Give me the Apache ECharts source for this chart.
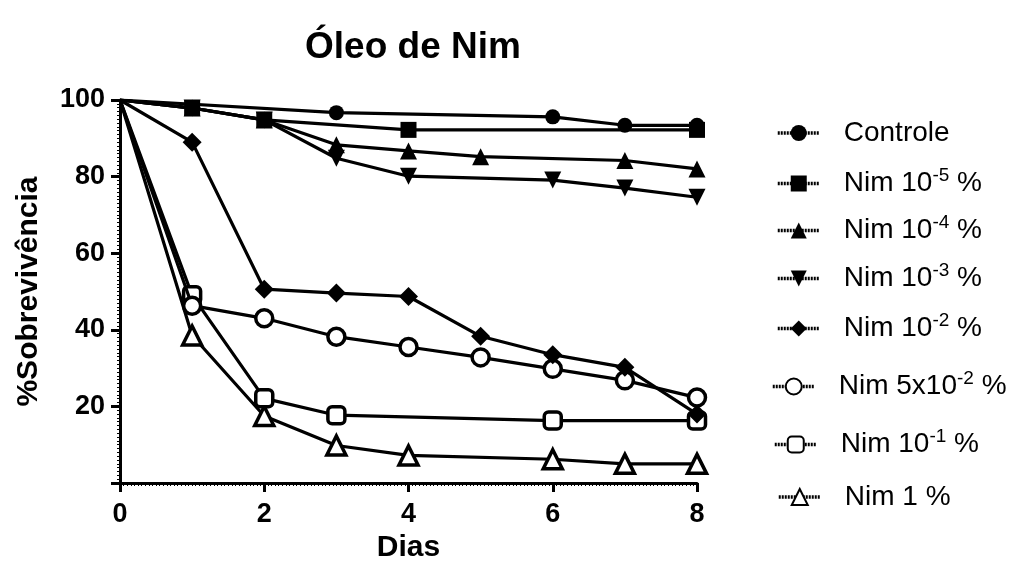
<!DOCTYPE html>
<html>
<head>
<meta charset="utf-8">
<script src="https://cdn.jsdelivr.net/npm/echarts@6/dist/echarts.min.js"></script>
<style>
html,body{margin:0;padding:0;background:#fff;}
#c{width:1023px;height:567px;}
</style>
</head>
<body>
<div id="c"></div>
<script>
const seriesNames = ['Controle','Nim 10-5 %','Nim 10-4 %','Nim 10-3 %','Nim 10-2 %','Nim 5x10-2 %','Nim 10-1 %','Nim 1 %'];
const controle = [[0,100],[3,96.7],[6,95.6],[7,93.4],[8,93.4]];
const nim1e5 = [[0,100],[1,97.9],[2,94.8],[4,92.2],[8,92.2]];
const nim1e4 = [[0,100],[1,97.9],[2,94.8],[3,88.3],[4,86.7],[5,85.2],[7,84.2],[8,82.0]];
const nim1e3 = [[0,100],[1,97.9],[2,94.8],[3,84.8],[4,80.1],[6,79.1],[7,77.0],[8,74.6]];
const nim1e2 = [[0,100],[1,89.0],[2,50.6],[3,49.6],[4,48.7],[5,38.3],[6,33.5],[7,30.2],[8,18.0]];
const nim5e2 = [[0,100],[1,46.3],[2,43.0],[3,38.2],[4,35.5],[5,32.8],[6,29.8],[7,26.8],[8,22.3]];
const nim1e1 = [[0,100],[1,49.0],[2,22.1],[3,17.7],[6,16.3],[8,16.3]];
const nim1 = [[0,100],[1,38.5],[2,17.5],[3,9.8],[4,7.2],[6,6.2],[7,5.0],[8,5.0]];
const xTicks = [0,2,4,6,8];
const yTicks = [20,40,60,80,100];

const legendRich = {
  'Controle': '{t|Controle}',
  'Nim 10-5 %': '{t|Nim 10}{s|-5}{t| %}',
  'Nim 10-4 %': '{t|Nim 10}{s|-4}{t| %}',
  'Nim 10-3 %': '{t|Nim 10}{s|-3}{t| %}',
  'Nim 10-2 %': '{t|Nim 10}{s|-2}{t| %}',
  'Nim 5x10-2 %': '{t|Nim 5x10}{s|-2}{t| %}',
  'Nim 10-1 %': '{t|Nim 10}{s|-1}{t| %}',
  'Nim 1 %': '{t|Nim 1 %}'
};
// legend row centres (px) and left edges
const legendTop = [137,184,231,279,329,387,445,501];
const legendLeft = [776,776,776,776,776,771,773,777];

const diamondPath = 'path://M0,-1L1,0L0,1L-1,0Z';
const downTri = 'path://M-1,-0.9L1,-0.9L0,0.9Z';

const seriesData = [controle,nim1e5,nim1e4,nim1e3,nim1e2,nim5e2,nim1e1,nim1];
const symbols = ['circle','rect','triangle',downTri,diamondPath,'circle','roundRect','triangle'];
const hollow = [false,false,false,false,false,true,true,true];
const sizes = [15,16,17,17,19,17,17,19];

const txt = {fontFamily:'Liberation Sans',fontSize:28,color:'#000',lineHeight:36};
const sup = {fontFamily:'Liberation Sans',fontSize:19,color:'#000',lineHeight:19,padding:[0,0,16,0]};

const legends = seriesNames.map(function(n,i){
  return {
    orient:'vertical', left:legendLeft[i], top:legendTop[i]-18, padding:0,
    itemWidth:42, itemHeight:20,
    data:[n],
    formatter:function(nm){return '{g|}'+legendRich[nm];},
    lineStyle:{type:[2,1],width:3.5,color:'#000'},
    selectedMode:false,
    textStyle:{rich:{g:{width:19,lineHeight:36},t:txt,s:sup}}
  };
});

const chart = echarts.init(document.getElementById('c'));
chart.setOption({
  animation:false,
  backgroundColor:'#fff',
  title:{
    text:'Óleo de Nim', left:408, top:24, textAlign:'center',
    textStyle:{fontFamily:'Liberation Sans',fontWeight:'bold',fontSize:37,color:'#000'}
  },
  grid:{left:120,right:326,top:100,bottom:84,containLabel:false,outerBoundsMode:'none'},
  legend:legends,
  xAxis:{
    type:'value', min:0, max:8, interval:2,
    name:'Dias', nameLocation:'middle', nameGap:48,
    nameTextStyle:{fontFamily:'Liberation Sans',fontWeight:'bold',fontSize:30,color:'#000'},
    axisLine:{show:true,lineStyle:{color:'#000',width:3}},
    axisTick:{show:true,length:9,lineStyle:{color:'#000',width:3}},
    minorTick:{show:true,splitNumber:40,length:3,lineStyle:{color:'#000',width:1}},
    axisLabel:{fontFamily:'Liberation Sans',fontWeight:'bold',fontSize:27,color:'#000',margin:18},
    splitLine:{show:false}
  },
  yAxis:{
    type:'value', min:0, max:100, interval:20,
    name:'%Sobrevivência', nameLocation:'middle', nameGap:76,
    nameTextStyle:{fontFamily:'Liberation Sans',fontWeight:'bold',fontSize:30,color:'#000'},
    axisLine:{show:true,lineStyle:{color:'#000',width:3}},
    axisTick:{show:true,length:9,lineStyle:{color:'#000',width:3}},
    minorTick:{show:true,splitNumber:20,length:3,lineStyle:{color:'#000',width:1}},
    axisLabel:{fontFamily:'Liberation Sans',fontWeight:'bold',fontSize:27,color:'#000',margin:15,
      formatter:function(v){return yTicks.indexOf(v)>=0?String(v):'';}},
    splitLine:{show:false}
  },
  series: seriesNames.map(function(n,i){
    const sz = sizes[i];
    return {
      name:n, type:'line', data:seriesData[i],
      symbol:symbols[i],
      symbolSize:function(v){return v[0]===0 ? 0 : sz;},
      showAllSymbol:true,
      lineStyle:{color:'#000',width:3.2},
      itemStyle:{color: hollow[i] ? '#fff' : '#000', borderColor:'#000', borderWidth: hollow[i] ? 3.5 : 0},
      z: 10-i
    };
  })
});
</script>
</body>
</html>
